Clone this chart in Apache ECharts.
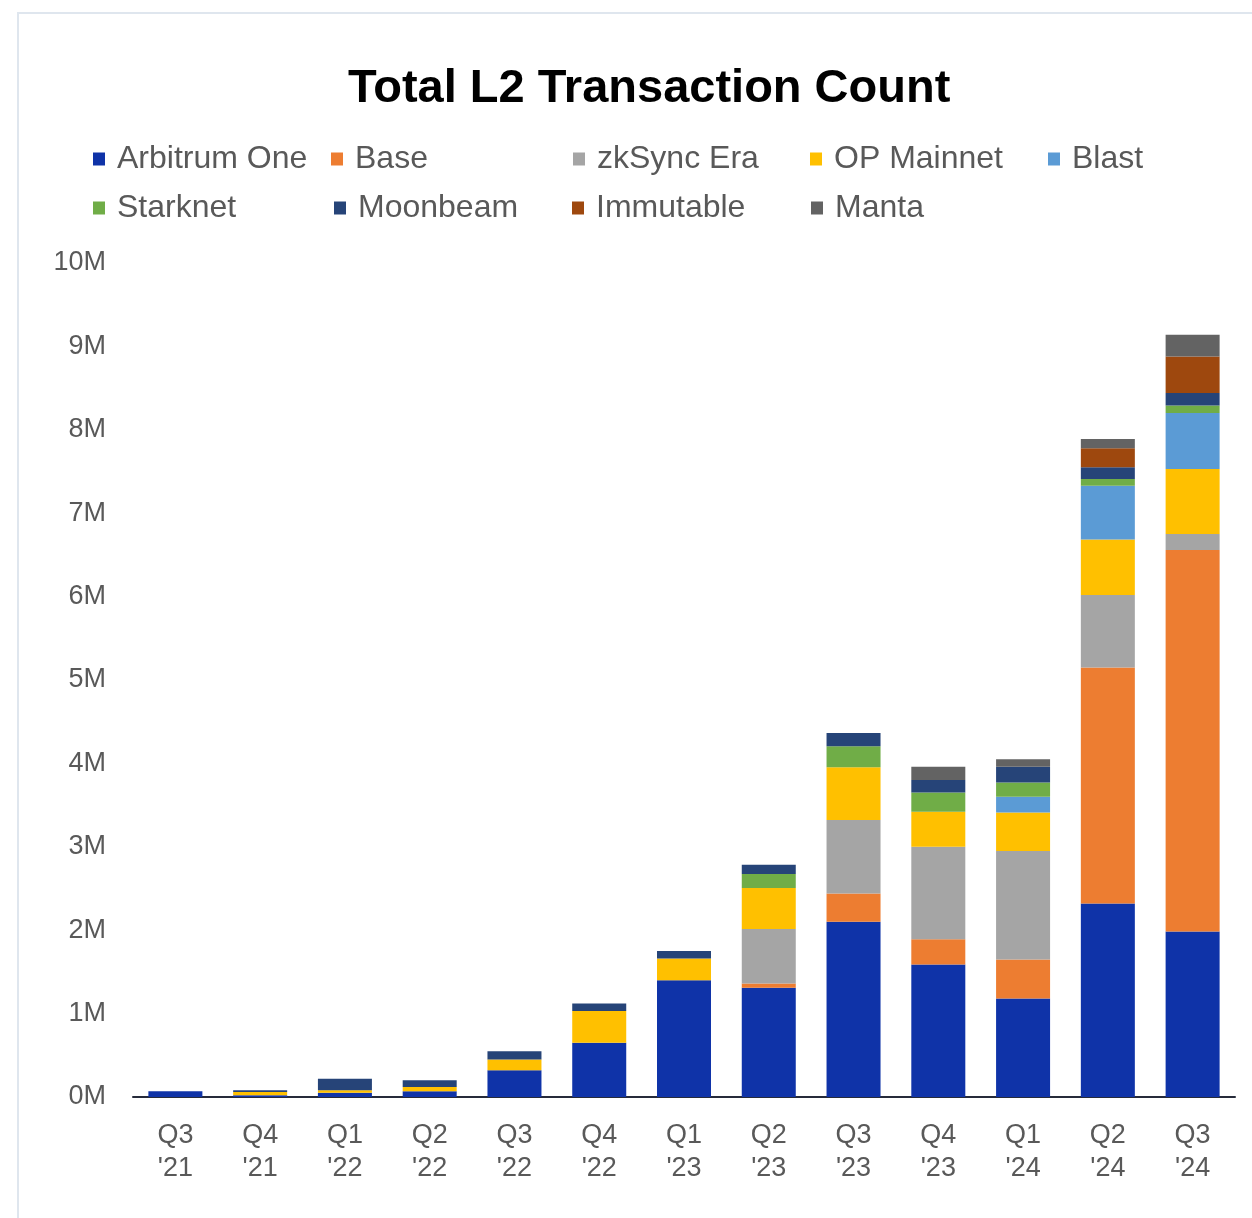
<!DOCTYPE html>
<html>
<head>
<meta charset="utf-8">
<title>Total L2 Transaction Count</title>
<script src="https://cdn.jsdelivr.net/npm/echarts@6/dist/echarts.min.js"></script>
<style>
  html, body { margin: 0; padding: 0; background: #fff; }
  #main { width: 1252px; height: 1218px; }
</style>
</head>
<body>
<div id="main"></div>
<script>
// quarterly transaction counts, in millions
const quarters = ["Q3\n'21", "Q4\n'21", "Q1\n'22", "Q2\n'22", "Q3\n'22", "Q4\n'22", "Q1\n'23", "Q2\n'23", "Q3\n'23", "Q4\n'23", "Q1\n'24", "Q2\n'24", "Q3\n'24"];
const arbitrum = [0.07, 0.02, 0.05, 0.07, 0.32, 0.65, 1.40, 1.31, 2.10, 1.59, 1.18, 2.32, 1.985];
const base = [0, 0, 0, 0, 0, 0, 0, 0.05, 0.34, 0.30, 0.47, 2.83, 4.575];
const zksync = [0, 0, 0, 0, 0, 0, 0, 0.655, 0.88, 1.11, 1.30, 0.87, 0.19];
const opMainnet = [0, 0.04, 0.03, 0.05, 0.13, 0.38, 0.26, 0.49, 0.635, 0.42, 0.46, 0.665, 0.78];
const blast = [0, 0, 0, 0, 0, 0, 0, 0, 0, 0, 0.19, 0.645, 0.67];
const starknet = [0, 0, 0, 0, 0, 0, 0, 0.17, 0.25, 0.23, 0.17, 0.08, 0.09];
const moonbeam = [0, 0.02, 0.14, 0.08, 0.10, 0.09, 0.09, 0.11, 0.16, 0.15, 0.19, 0.14, 0.15];
const immutable = [0, 0, 0, 0, 0, 0, 0, 0, 0, 0, 0, 0.23, 0.44];
const manta = [0, 0, 0, 0, 0, 0, 0, 0, 0, 0.16, 0.09, 0.11, 0.26];

const yTicks = ["0M", "1M", "2M", "3M", "4M", "5M", "6M", "7M", "8M", "9M", "10M"];

const seriesDefs = [
  { name: "Arbitrum One", data: arbitrum, color: "#0f33a8" },
  { name: "Base", data: base, color: "#ed7d31" },
  { name: "zkSync Era", data: zksync, color: "#a5a5a5" },
  { name: "OP Mainnet", data: opMainnet, color: "#ffc000" },
  { name: "Blast", data: blast, color: "#5b9bd5" },
  { name: "Starknet", data: starknet, color: "#70ad47" },
  { name: "Moonbeam", data: moonbeam, color: "#264478" },
  { name: "Immutable", data: immutable, color: "#9e480e" },
  { name: "Manta", data: manta, color: "#636363" }
];

// legend laid out as a grid, like the original
const legendSpots = [
  [93, 143], [331, 143], [573, 143], [810, 143], [1048, 143],
  [93, 192], [334, 192], [572, 192], [811, 192]
];

const font = "'Liberation Sans', Arial, sans-serif";

const legends = seriesDefs.map((s, i) => ({
  data: [s.name],
  left: legendSpots[i][0],
  top: legendSpots[i][1],
  padding: 0,
  icon: "rect",
  itemWidth: 12,
  itemHeight: 13,
  selectedMode: false,
  textStyle: { fontFamily: font, fontSize: 32, color: "#595959", padding: [0, 0, 0, 7] }
}));

const options = {
  backgroundColor: "#fff",
  animation: false,
  title: {
    text: "Total L2 Transaction Count",
    left: 343,
    top: 61,
    textStyle: { fontFamily: font, fontSize: 47, fontWeight: "bold", color: "#000" }
  },
  legend: legends,
  graphic: [{
    type: "rect",
    shape: { x: 18, y: 13, width: 1260, height: 1230 },
    style: { fill: "none", stroke: "#dfe6ee", lineWidth: 2 },
    silent: true
  }],
  grid: { left: 133, right: 17, top: 263, bottom: 121 },
  xAxis: {
    type: "category",
    data: quarters,
    axisLine: { lineStyle: { color: "#262b3a", width: 2 } },
    axisTick: { show: false },
    axisLabel: { fontFamily: font, fontSize: 27, color: "#595959", lineHeight: 33, margin: 22 }
  },
  yAxis: {
    type: "value",
    min: 0,
    max: 10,
    interval: 1,
    splitLine: { show: false },
    axisLine: { show: false },
    axisTick: { show: false },
    axisLabel: {
      fontFamily: font, fontSize: 27, color: "#595959", margin: 27,
      formatter: (v) => yTicks[Math.round(v)]
    }
  },
  series: seriesDefs.map((s) => ({
    name: s.name,
    type: "bar",
    stack: "total",
    barWidth: 54,
    data: s.data,
    itemStyle: { color: s.color }
  }))
};

var myChart = echarts.init(document.getElementById("main"));
myChart.setOption(options);
</script>
</body>
</html>
